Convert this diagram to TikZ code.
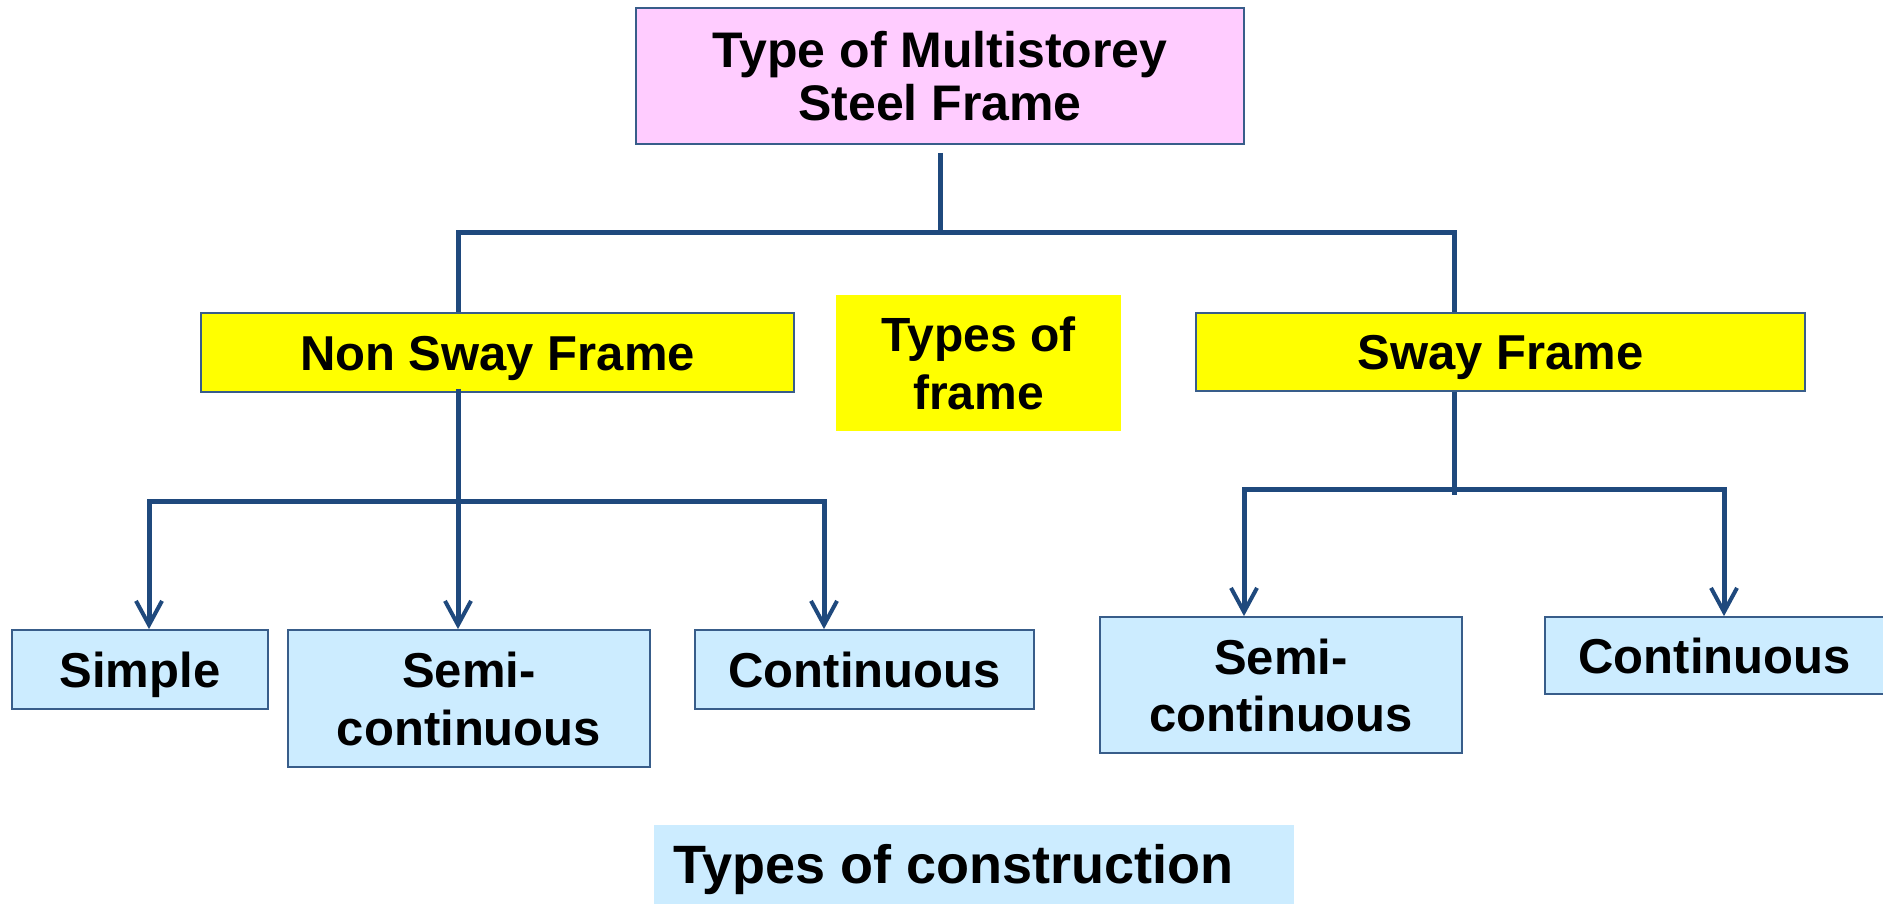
\documentclass[tikz,border=0pt]{standalone}
\usepackage{fontspec}
\setmainfont{Liberation Sans}
\usetikzlibrary{arrows.meta}
\definecolor{lnblue}{RGB}{31,73,125}
\definecolor{bdblue}{RGB}{56,93,138}
\definecolor{pinkfill}{RGB}{255,204,255}
\definecolor{yelfill}{RGB}{255,255,0}
\definecolor{bluefill}{RGB}{204,236,255}
\newcommand\oneline[1]{\raisebox{-0.358em}[0pt][0pt]{#1}}
\newcommand\twoline[3]{\raisebox{\dimexpr(#1-0.716em)/2\relax}[0pt][0pt]{\begin{tabular}[t]{@{}c@{}}#2\\#3\end{tabular}}}
\tikzset{
  box/.style={draw=bdblue, line width=1.8pt, rectangle, inner sep=0pt,
    font=\bfseries\fontsize{49}{58}\selectfont},
  conn/.style={draw=lnblue, line width=5pt},
  barbtip/.tip={Straight Barb[length=24pt,width=26pt,line width=4pt]},
  arr/.style={conn, -barbtip},
  arrboth/.style={conn, barbtip-barbtip}
}
\begin{document}
\begin{tikzpicture}[x=1pt,y=-1pt]
\useasboundingbox (0,0) rectangle (1883,904);
% boxes
\node[box, fill=pinkfill, minimum width=608pt, minimum height=136pt,
  font=\bfseries\fontsize{50}{53}\selectfont] (top) at (940,76)
  {\twoline{53pt}{Type of Multistorey}{Steel Frame}};
\node[box, fill=yelfill, minimum width=593pt, minimum height=79pt] (nonsway) at (497.5,352.5)
  {\oneline{Non Sway Frame}};
\node[box, draw=none, fill=yelfill, minimum width=285pt, minimum height=136pt,
  font=\bfseries\fontsize{48}{58}\selectfont] (tof) at (978.5,363)
  {\twoline{58pt}{Types of}{frame}};
\node[box, fill=yelfill, minimum width=609pt, minimum height=78pt] (sway) at (1500.5,352)
  {\oneline{Sway Frame}};
\node[box, fill=bluefill, minimum width=256pt, minimum height=79pt] (simple) at (140,669.5)
  {\oneline{Simple}};
\node[box, fill=bluefill, minimum width=362pt, minimum height=137pt] (semiL) at (469,698.5)
  {\twoline{58pt}{Semi-}{continuous}};
\node[box, fill=bluefill, minimum width=339pt, minimum height=79pt] (contL) at (864.5,669.5)
  {\oneline{Continuous}};
\node[box, fill=bluefill, minimum width=362pt, minimum height=136pt,
  font=\bfseries\fontsize{49}{57}\selectfont] (semiR) at (1281,685)
  {\twoline{57pt}{Semi-}{continuous}};
\node[box, fill=bluefill, minimum width=339pt, minimum height=77pt] (contR) at (1714.5,655.5)
  {\oneline{Continuous}};
\node[box, draw=none, fill=bluefill, minimum width=640pt, minimum height=79pt,
  font=\bfseries\fontsize{54}{60}\selectfont] (toc) at (974,864.5)
  {\oneline{\makebox[602pt][l]{Types of construction}}};
% connectors
\coordinate (a1) at (458,233);
\coordinate (a2) at (1454,233);
\draw[conn] ([yshift=-8pt]top.south) -- (top.south |- a1);
\draw[conn] (a1 |- nonsway.north) -- (a1) -- (a2) -- (a2 |- sway.north);
\coordinate (b0) at (458,501);
\coordinate (b1) at (149,501);
\coordinate (b2) at (824,501);
\draw[arr] ([yshift=4pt]nonsway.south -| b0) -- (b0 |- semiL.north);
\draw[arrboth] (b1 |- simple.north) -- (b1) -- (b2) -- (b2 |- contL.north);
\coordinate (c0) at (1454,489);
\coordinate (c1) at (1244,489);
\coordinate (c2) at (1724,489);
\draw[conn] (sway.south -| c0) -- ([yshift=-6pt]c0);
\draw[arrboth] (c1 |- semiR.north) -- (c1) -- (c2) -- (c2 |- contR.north);
\end{tikzpicture}
\end{document}
